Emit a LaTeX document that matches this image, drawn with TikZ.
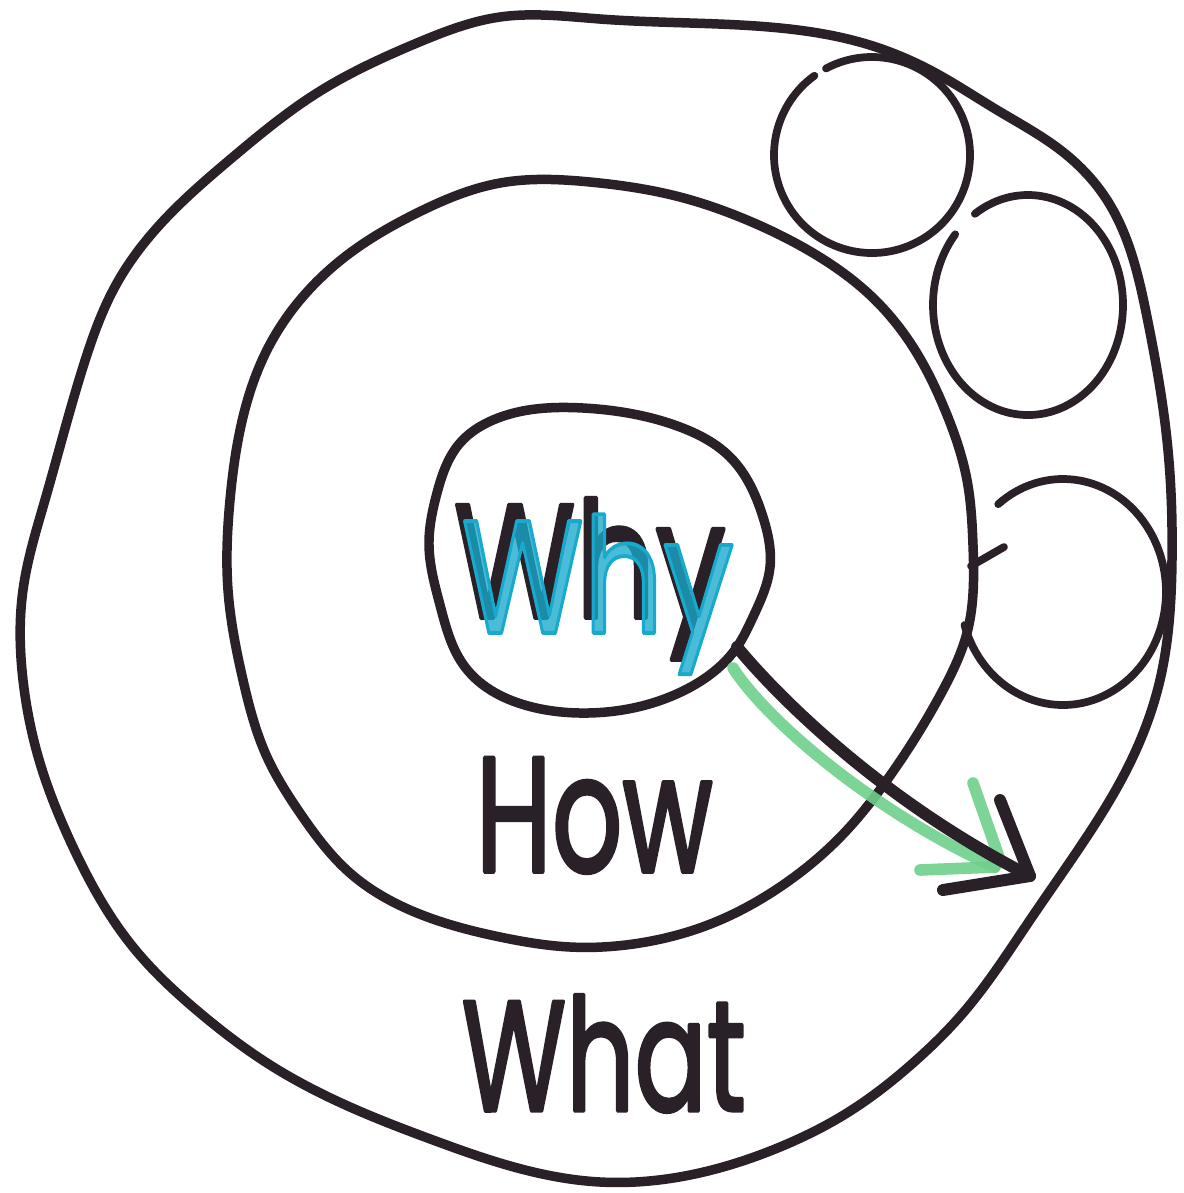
\documentclass[tikz,border=0pt]{standalone}
\usepackage{fontspec}
\usetikzlibrary{hobby}
\newfontfamily\hand[FakeBold=2.4]{Poppins}
\definecolor{ink}{RGB}{42,32,40}
\definecolor{whyteal}{RGB}{24,170,205}
\definecolor{marker}{RGB}{110,208,140}
\begin{document}
\begin{tikzpicture}[x=0.01cm,y=-0.01cm,line cap=round,line join=round]
\tikzset{
  pen/.style={draw=ink,line width=2.7pt},
  thinpen/.style={draw=ink,line width=2.2pt},
  word/.style={inner sep=0pt,anchor=north west,text=ink,font=\hand\fontsize{40}{40}\selectfont},
  greenpen/.style={draw=marker,line width=3.3pt,opacity=0.9},
  arrowpen/.style={draw=ink,line width=3.4pt}
}
\fill[white] (0,0) rectangle (1184,1193);
\path[use as bounding box] (0,0) rectangle (1184,1193);

% outer ring (What)
\draw[pen,use Hobby shortcut,closed=true]
 (500,17) .. (600,19) .. (690,23) .. (780,28) .. (863,43) .. (930,70) .. (997,110)
 .. (1063,152) .. (1107,200) .. (1147,317) .. (1168,450) .. (1172,560) .. (1160,680)
 .. (1130,763) .. (1080,847) .. (1030,920) .. (963,1013) .. (913,1063) .. (847,1113)
 .. (780,1147) .. (690,1175) .. (600,1182) .. (500,1163) .. (433,1140) .. (350,1107)
 .. (267,1063) .. (200,1013) .. (133,947) .. (73,847) .. (40,763) .. (23,680)
 .. (23,590) .. (45,500) .. (83,367) .. (117,283) .. (167,217) .. (233,157)
 .. (317,93) .. (417,43);

% middle ring (How)
\draw[pen,use Hobby shortcut,closed=true]
 (500,183) .. (590,182) .. (680,197) .. (747,220) .. (813,253) .. (870,295) .. (913,347)
 .. (945,410) .. (967,480) .. (973,545) .. (967,633) .. (943,690) .. (887,780)
 .. (847,830) .. (780,887) .. (713,923) .. (640,943) .. (570,947) .. (500,937)
 .. (417,913) .. (350,873) .. (300,813) .. (267,757) .. (243,680) .. (228,590)
 .. (230,500) .. (243,417) .. (267,350) .. (300,300) .. (350,253) .. (417,213);

% inner ring (Why)
\draw[pen,use Hobby shortcut,closed=true]
 (583,408) .. (680,427) .. (730,457) .. (763,517) .. (770,567) .. (753,617) .. (737,647)
 .. (685,690) .. (588,713) .. (532,707) .. (465,667) .. (440,605) .. (429,545)
 .. (437,493) .. (460,443) .. (493,420);

% small circles
\draw[thinpen] (872,155) ++(-118:98 and 98) arc[start angle=-118,end angle=234,x radius=98,y radius=98];
\draw[thinpen] (1028,305) ++(-124:95 and 110) arc[start angle=-124,end angle=220,x radius=95,y radius=110];
\draw[thinpen] (1063,592) ++(-129:103 and 113) arc[start angle=-129,end angle=163,x radius=103,y radius=113];
\coordinate (t1) at (971,566);
\coordinate (t2) at (1004,547);
\draw[thinpen] (t1) -- (t2);

% arrow
\coordinate (s0) at (737,647);
\coordinate (tip) at (1030,876);
\coordinate (h1) at (1000,800);
\coordinate (h2) at (943,890);
\coordinate (g0) at (733,668);
\coordinate (g1) at (995,867);
\coordinate (gh1) at (973,783);
\coordinate (gh2) at (1000,860);
\coordinate (gh3) at (920,870);
\coordinate (gh4) at (995,867);
\draw[greenpen] (g0) .. controls (770,725) and (880,815) .. (g1);
\draw[greenpen] (gh1) -- (gh2);
\draw[greenpen] (gh3) -- (gh4);
\draw[arrowpen] (s0) .. controls (785,705) and (890,805) .. (tip);
\draw[arrowpen] (h1) -- (tip) -- (h2);

% words
\node[word] (why) at (453,497) {\resizebox*{2.72cm}{1.62cm}{Why}\llap{\raisebox{-0.15cm}{\color{whyteal}\pgfsetfillopacity{0.78}\resizebox*{2.72cm}{1.6cm}{Why}}\hspace{-0.08cm}}};
\node[word] (how) at (475,757) {\resizebox{2.37cm}{1.14cm}{How}};
\node[word] (what) at (461,994) {\resizebox{2.84cm}{1.16cm}{What}};
\end{tikzpicture}
\end{document}
